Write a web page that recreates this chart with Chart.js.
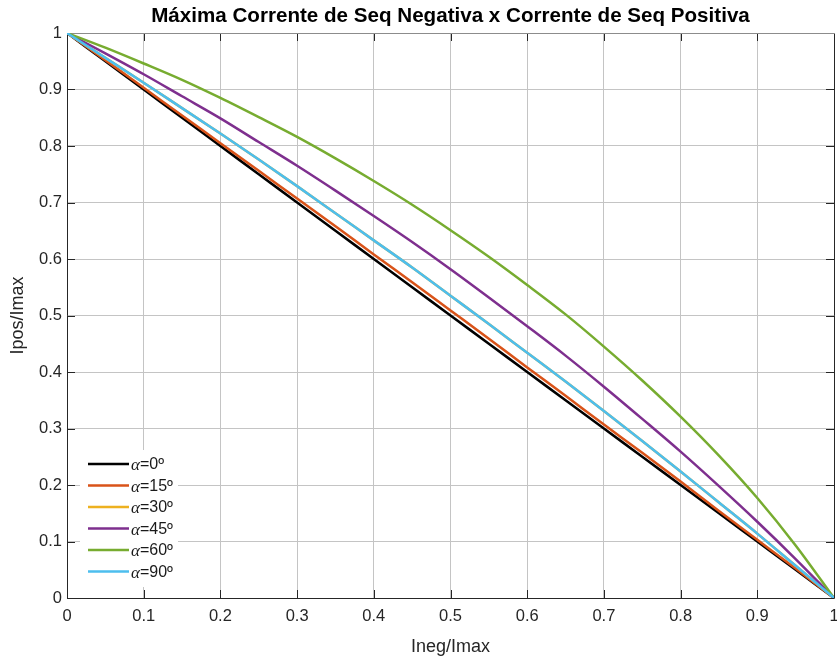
<!DOCTYPE html>
<html>
<head>
<meta charset="utf-8">
<script src="https://cdn.jsdelivr.net/npm/chart.js@4/dist/chart.umd.min.js"></script>
<style>
  body { margin: 0; background: #fff; }
  #wrap { width: 837px; height: 659px; }
</style>
</head>
<body>
<div id="wrap"><canvas id="seqChart" width="837" height="659"></canvas></div>
<script>
    // Ineg/Imax (x) and Ipos/Imax (y)
    const ineg = [0, 0.05, 0.1, 0.15, 0.2, 0.25, 0.3, 0.35, 0.4, 0.45, 0.5,
                  0.55, 0.6, 0.65, 0.7, 0.75, 0.8, 0.85, 0.9, 0.95, 1];

    const alpha0  = [1, 0.95, 0.9, 0.85, 0.8, 0.75, 0.7, 0.65, 0.6, 0.55, 0.5,
                     0.45, 0.4, 0.35, 0.3, 0.25, 0.2, 0.15, 0.1, 0.05, 0];
    const alpha15 = [1, 0.952, 0.903, 0.854, 0.805, 0.756, 0.707, 0.658, 0.608, 0.559, 0.509,
                     0.459, 0.408, 0.358, 0.307, 0.257, 0.206, 0.154, 0.103, 0.052, 0];
    const alpha30 = [1, 0.956, 0.912, 0.867, 0.822, 0.776, 0.729, 0.681, 0.633, 0.585, 0.535,
                     0.485, 0.434, 0.383, 0.331, 0.278, 0.224, 0.169, 0.114, 0.057, 0];
    const alpha45 = [1, 0.964, 0.927, 0.888, 0.849, 0.807, 0.765, 0.721, 0.676, 0.630, 0.582,
                     0.532, 0.481, 0.429, 0.374, 0.317, 0.259, 0.198, 0.135, 0.069, 0];
    const alpha60 = [1, 0.974, 0.946, 0.917, 0.885, 0.851, 0.816, 0.778, 0.738, 0.696, 0.651,
                     0.604, 0.554, 0.502, 0.445, 0.385, 0.321, 0.252, 0.177, 0.093, 0];
    const alpha90 = [1, 0.956, 0.912, 0.867, 0.822, 0.776, 0.729, 0.681, 0.633, 0.585, 0.535,
                     0.485, 0.434, 0.383, 0.331, 0.278, 0.224, 0.169, 0.114, 0.057, 0];

    const seriesLabels = ["α=0º", "α=15º", "α=30º", "α=45º", "α=60º", "α=90º"];
    const seriesValues = [alpha0, alpha15, alpha30, alpha45, alpha60, alpha90];
    const seriesColors = ["#000000", "#D95319", "#EDB120", "#7E2F8E", "#77AC30", "#4DBEEE"];

    const tickValues = [0, 0.1, 0.2, 0.3, 0.4, 0.5, 0.6, 0.7, 0.8, 0.9, 1];
    const tickLabels = ["0", "0.1", "0.2", "0.3", "0.4", "0.5", "0.6", "0.7", "0.8", "0.9", "1"];

    const titleText = "Máxima Corrente de Seq Negativa x Corrente de Seq Positiva";
    const SANS = "'Liberation Sans', Arial, sans-serif";
    const AXIS = "#262626";

    function pickTicks(scale) {
      scale.ticks = tickValues.map(v => ({ value: v }));
    }

    // frame, inner tick marks and title (MATLAB style)
    const framePlugin = {
      id: "frame",
      beforeDatasetsDraw(chart) {
        const { ctx, chartArea: a, scales } = chart;
        ctx.save();
        ctx.lineWidth = 1;
        ctx.strokeStyle = AXIS;
        ctx.beginPath();
        tickValues.forEach(v => {
          const px = Math.round(scales.x.getPixelForValue(v)) + 0.5;
          const py = Math.round(scales.y.getPixelForValue(v)) + 0.5;
          ctx.moveTo(px, a.bottom); ctx.lineTo(px, a.bottom - 8);
          ctx.moveTo(px, a.top); ctx.lineTo(px, a.top + 8);
          ctx.moveTo(a.left, py); ctx.lineTo(a.left + 8, py);
          ctx.moveTo(a.right, py); ctx.lineTo(a.right - 8, py);
        });
        ctx.stroke();
        ctx.beginPath();
        ctx.moveTo(a.left + 0.5, a.top); ctx.lineTo(a.left + 0.5, a.bottom + 0.5);
        ctx.lineTo(a.right + 0.5, a.bottom + 0.5); ctx.lineTo(a.right + 0.5, a.top);
        ctx.stroke();
        ctx.strokeStyle = "#8c8c8c";
        ctx.beginPath();
        ctx.moveTo(a.left, a.top + 0.5); ctx.lineTo(a.right + 1, a.top + 0.5);
        ctx.stroke();
        ctx.restore();
      },
      afterDraw(chart) {
        const { ctx, chartArea: a } = chart;
        ctx.save();
        ctx.fillStyle = "#000";
        ctx.font = "bold 20.6px " + SANS;
        ctx.textAlign = "center";
        ctx.textBaseline = "middle";
        ctx.fillText(titleText, (a.left + a.right) / 2, 16);
        ctx.restore();
      }
    };

    // legend box inside the axes, lower left
    const legendPlugin = {
      id: "innerLegend",
      afterDatasetsDraw(chart) {
        const { ctx } = chart;
        ctx.save();
        ctx.fillStyle = "#fff";
        ctx.fillRect(80, 450, 98, 137);
        seriesLabels.forEach((lab, i) => {
          const y = 464 + i * 21.5;
          ctx.strokeStyle = seriesColors[i];
          ctx.lineWidth = 2.5;
          ctx.beginPath();
          ctx.moveTo(88, y); ctx.lineTo(129, y);
          ctx.stroke();
          ctx.fillStyle = "#1a1a1a";
          ctx.textBaseline = "middle";
          ctx.textAlign = "left";
          ctx.font = "italic 17px 'Liberation Serif', 'Times New Roman', serif";
          const greek = lab.charAt(0);
          ctx.fillText(greek, 131, y + 2);
          const w = ctx.measureText(greek).width;
          ctx.font = "16px " + SANS;
          ctx.fillText(lab.slice(1), 131 + w, y + 1);
        });
        ctx.restore();
      }
    };

    const ctx = document.getElementById("seqChart").getContext("2d");

    const seqChart = new Chart(ctx, {
      type: "line",
      data: {
        datasets: seriesValues.map((vals, i) => ({
          label: seriesLabels[i],
          data: ineg.map((x, j) => ({ x: x, y: vals[j] })),
          borderColor: seriesColors[i],
          backgroundColor: seriesColors[i],
          borderWidth: 2.5,
          pointRadius: 0,
          cubicInterpolationMode: "monotone",
          fill: false,
          order: seriesValues.length - i
        }))
      },
      options: {
        responsive: false,
        animation: false,
        events: [],
        layout: { padding: { top: 33, right: 3, left: 0, bottom: 0 } },
        plugins: {
          legend: { display: false },
          tooltip: { enabled: false },
          title: { display: false }
        },
        scales: {
          x: {
            type: "linear",
            min: 0,
            max: 1,
            afterBuildTicks: pickTicks,
            afterFit(s) { s.height = 61; s.paddingLeft = 0; s.paddingRight = 0; },
            border: { display: false },
            grid: { color: "#c4c4c4", lineWidth: 1, drawTicks: false },
            ticks: {
              color: AXIS,
              font: { family: SANS, size: 16.5 },
              padding: 9,
              maxRotation: 0,
              autoSkip: false,
              callback: (v, i) => tickLabels[i]
            },
            title: {
              display: true,
              text: "Ineg/Imax",
              color: AXIS,
              font: { family: SANS, size: 18 },
              padding: { top: 0, bottom: 1 }
            }
          },
          y: {
            type: "linear",
            min: 0,
            max: 1,
            afterBuildTicks: pickTicks,
            afterFit(s) { s.width = 67; s.paddingTop = 0; s.paddingBottom = 0; },
            border: { display: false },
            grid: { color: "#c4c4c4", lineWidth: 1, drawTicks: false },
            ticks: {
              color: AXIS,
              font: { family: SANS, size: 16.5 },
              padding: 5,
              autoSkip: false,
              callback: (v, i) => tickLabels[i]
            },
            title: {
              display: true,
              text: "Ipos/Imax",
              color: AXIS,
              font: { family: SANS, size: 18 },
              padding: { top: 7, bottom: 0 }
            }
          }
        }
      },
      plugins: [framePlugin, legendPlugin]
    });
</script>
</body>
</html>
